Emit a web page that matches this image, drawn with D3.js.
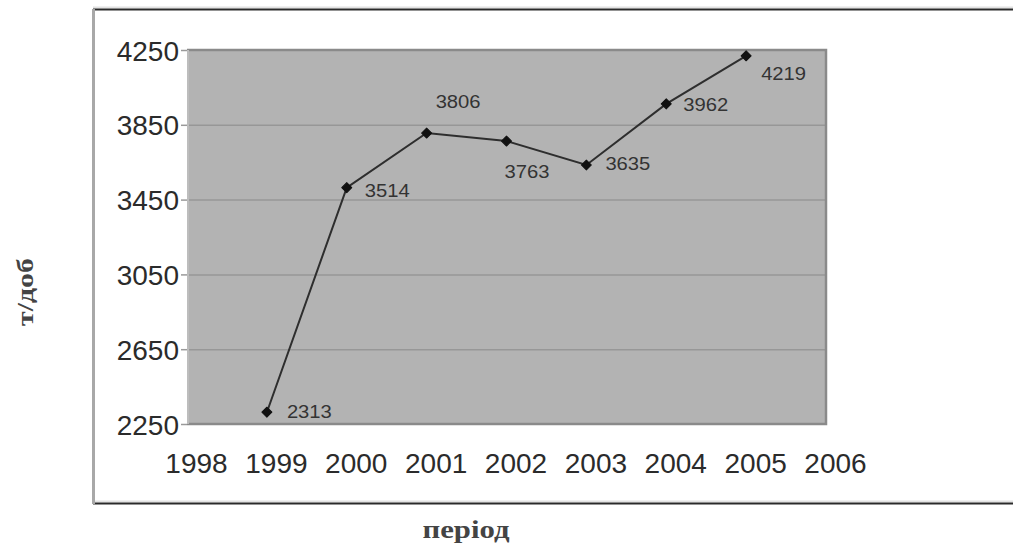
<!DOCTYPE html>
<html>
<head>
<meta charset="utf-8">
<script src="https://cdn.jsdelivr.net/npm/d3@7"></script>
<style>
  html, body { margin: 0; padding: 0; background: #ffffff; }
  svg { display: block; }
</style>
</head>
<body>
<svg id="chart" width="1013" height="549"></svg>
<script>
// Daily output by year
const years = [1999, 2000, 2001, 2002, 2003, 2004, 2005];
const values = [2313, 3514, 3806, 3763, 3635, 3962, 4219];
const xTicks = [1998, 1999, 2000, 2001, 2002, 2003, 2004, 2005, 2006];
const yTicks = [2250, 2650, 3050, 3450, 3850, 4250];
const xTitle = "період";
const yTitle = "т/доб";

const svg = d3.select("#chart");

// plot area
const plot = { left: 187, right: 826, top: 50, bottom: 424 };

const x = d3.scaleLinear().domain([1998, 2006]).range([plot.left, plot.right]);
const y = d3.scaleLinear().domain([2250, 4250]).range([plot.bottom, plot.top]);

// outer chart frame (extends past the right edge)
svg.append("line").attr("x1", 93).attr("x2", 1013).attr("y1", 7.5).attr("y2", 7.5)
  .attr("stroke", "#e2e2e2").attr("stroke-width", 2);
svg.append("line").attr("x1", 93).attr("x2", 1013).attr("y1", 9.5).attr("y2", 9.5)
  .attr("stroke", "#2a2a2a").attr("stroke-width", 2);
svg.append("line").attr("x1", 93).attr("x2", 1013).attr("y1", 501.5).attr("y2", 501.5)
  .attr("stroke", "#e2e2e2").attr("stroke-width", 2);
svg.append("line").attr("x1", 93).attr("x2", 1013).attr("y1", 503.5).attr("y2", 503.5)
  .attr("stroke", "#2a2a2a").attr("stroke-width", 2);
svg.append("line").attr("x1", 93.5).attr("x2", 93.5).attr("y1", 9).attr("y2", 504)
  .attr("stroke", "#a8a8a8").attr("stroke-width", 3);

// plot background
svg.append("rect")
  .attr("x", plot.left).attr("y", plot.top)
  .attr("width", plot.right - plot.left).attr("height", plot.bottom - plot.top)
  .attr("fill", "#b3b3b3");

// horizontal gridlines
svg.append("g").selectAll("line")
  .data(yTicks.filter(v => v !== 2250 && v !== 4250))
  .join("line")
  .attr("x1", plot.left).attr("x2", plot.right)
  .attr("y1", d => y(d) + 0.5).attr("y2", d => y(d) + 0.5)
  .attr("stroke", "#979797").attr("stroke-width", 1.5);

// plot border: top, right, bottom
svg.append("path")
  .attr("d", `M${plot.left},${plot.top} H${plot.right} V${plot.bottom} H${plot.left}`)
  .attr("fill", "none").attr("stroke", "#8a8a8a").attr("stroke-width", 2.5);
svg.append("line")
  .attr("x1", plot.left + 1).attr("x2", plot.left + 1)
  .attr("y1", plot.top).attr("y2", plot.bottom)
  .attr("stroke", "#bdbdbd").attr("stroke-width", 2);

// y axis
const yAxis = d3.axisLeft(y).tickValues(yTicks).tickFormat(d3.format("d")).tickSize(6).tickPadding(2);
const gy = svg.append("g").attr("transform", `translate(${plot.left},0)`).call(yAxis);
gy.select(".domain").remove();
gy.selectAll(".tick line").attr("stroke", "#9a9a9a").attr("stroke-width", 1.5);
gy.selectAll(".tick text")
  .attr("font-family", "'Liberation Sans', Arial, sans-serif")
  .attr("font-size", 28).attr("fill", "#2b2b2b").attr("dy", "0.36em");

// x axis
const xAxis = d3.axisBottom(x).tickValues(xTicks).tickFormat(d3.format("d")).tickSize(0).tickPadding(0);
const gx = svg.append("g").attr("transform", `translate(0,${plot.bottom})`).call(xAxis);
gx.select(".domain").remove();
gx.selectAll(".tick text")
  .attr("font-family", "'Liberation Sans', Arial, sans-serif")
  .attr("font-size", 28).attr("fill", "#2b2b2b")
  .attr("x", 9).attr("y", 49).attr("dy", 0);

// series line
const line = d3.line().x((d, i) => x(years[i])).y(d => y(d));
svg.append("path")
  .datum(values)
  .attr("d", line)
  .attr("fill", "none").attr("stroke", "#2e2e2e").attr("stroke-width", 2);

// diamond markers (square turned 45°)
svg.append("g").selectAll("path")
  .data(values)
  .join("path")
  .attr("d", d3.symbol().type(d3.symbolSquare).size(50))
  .attr("transform", (d, i) => `translate(${x(years[i])},${y(d)}) rotate(45)`)
  .attr("fill", "#111")
  .attr("stroke", "#111").attr("stroke-width", 1).attr("stroke-linejoin", "round");

// value labels; each placed beside its marker
const labelPlacement = [[20, 6], [18, 9], [9, -25], [-2, 37], [19, 5], [17, 7], [15, 24]];
svg.append("g").selectAll("text")
  .data(values)
  .join("text")
  .attr("x", (d, i) => x(years[i]) + labelPlacement[i][0])
  .attr("y", (d, i) => y(d) + labelPlacement[i][1])
  .attr("font-family", "'Liberation Sans', Arial, sans-serif")
  .attr("font-size", 18).attr("fill", "#333")
  .attr("textLength", 45).attr("lengthAdjust", "spacingAndGlyphs")
  .text(d => d);

// axis titles
svg.append("text")
  .attr("x", 466).attr("y", 538)
  .attr("text-anchor", "middle")
  .attr("font-family", "'Liberation Serif', 'Times New Roman', serif")
  .attr("font-weight", "bold").attr("font-size", 25).attr("fill", "#444")
  .attr("textLength", 87).attr("lengthAdjust", "spacingAndGlyphs")
  .text(xTitle);

svg.append("text")
  .attr("transform", "translate(33,292) rotate(-90)")
  .attr("text-anchor", "middle")
  .attr("font-family", "'Liberation Serif', 'Times New Roman', serif")
  .attr("font-weight", "bold").attr("font-size", 24).attr("fill", "#444")
  .attr("textLength", 68).attr("lengthAdjust", "spacingAndGlyphs")
  .text(yTitle);
</script>
</body>
</html>
